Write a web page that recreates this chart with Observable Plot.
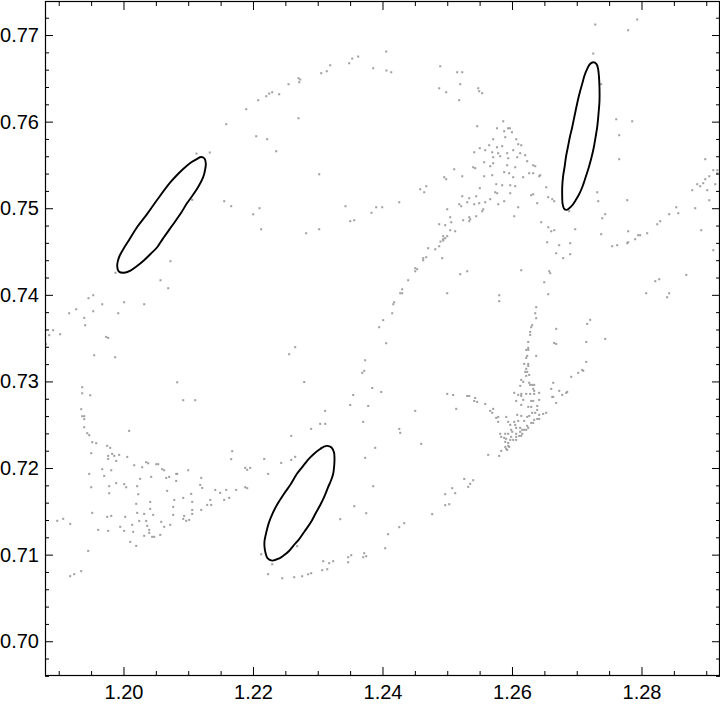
<!DOCTYPE html>
<html>
<head>
<meta charset="utf-8">
<script src="https://cdn.jsdelivr.net/npm/d3@7"></script>
<script src="https://cdn.jsdelivr.net/npm/@observablehq/plot@0.6"></script>
<style>
  html, body { margin: 0; padding: 0; background: #fff; }
  #chart svg { display: block; }
</style>
</head>
<body>
<div id="chart"></div>
<script>
const xMajorTicks = [1.20, 1.22, 1.24, 1.26, 1.28];
const xMinorTicks = [1.190, 1.195, 1.205, 1.210, 1.215, 1.225, 1.230, 1.235, 1.245, 1.250, 1.255, 1.265, 1.270, 1.275, 1.285, 1.290];
const yMajorTicks = [0.70, 0.71, 0.72, 0.73, 0.74, 0.75, 0.76, 0.77];
const yMinorTicks = [0.696, 0.698, 0.702, 0.704, 0.706, 0.708, 0.712, 0.714, 0.716, 0.718, 0.722, 0.724, 0.726, 0.728,
  0.732, 0.734, 0.736, 0.738, 0.742, 0.744, 0.746, 0.748, 0.752, 0.754, 0.756, 0.758, 0.762, 0.764, 0.766, 0.768, 0.772];
const xDomain = [1.18788, 1.29197];
const yDomain = [0.6961, 0.77393];

const orbitUpperArc = [
  [1.21579,0.75976],[1.2112,0.75637],[1.21325,0.75649],[1.21548,0.75087],[1.21656,0.75029],[1.21054,0.75103],
  [1.2405,0.76815],[1.24054,0.76596],[1.24127,0.76576],[1.23617,0.76757],[1.23525,0.76734],[1.23478,0.7668],
  [1.23849,0.76622],[1.23185,0.76657],[1.23046,0.76565],[1.23132,0.76588],[1.22695,0.76507],[1.22722,0.76492],
  [1.22706,0.76461],[1.22541,0.76438],[1.22397,0.76322],[1.22289,0.76345],[1.22243,0.7633],[1.22197,0.76299],
  [1.22073,0.76253],[1.21888,0.76149],[1.22695,0.76045],[1.22042,0.75837],[1.22212,0.75803],[1.22351,0.75664],
  [1.23015,0.75398],[1.22093,0.75006],[1.21996,0.74936],[1.22119,0.74763],[1.22814,0.74717],[1.23015,0.74763],
  [1.23421,0.75029],[1.23494,0.74856],[1.23556,0.74867],[1.23823,0.74953],[1.23895,0.75017],[1.23988,0.75017],
  [1.24251,0.75075],[1.24575,0.75225],[1.24637,0.7519],[1.24668,0.7526],[1.24884,0.76645],[1.24868,0.76391],
  [1.24976,0.76345],[1.25146,0.76576],[1.25224,0.76576],[1.25193,0.76438],[1.25177,0.76253],[1.25471,0.76391],
  [1.25486,0.76357],[1.25455,0.75953],[1.25495,0.75699],[1.25409,0.75652],[1.25393,0.75479],[1.25424,0.75468],
  [1.251,0.75456],[1.24946,0.75364],[1.24976,0.75341],[1.25224,0.75375],[1.25495,0.75237],[1.25224,0.75144],
  [1.25332,0.75121],[1.2544,0.75144],[1.25177,0.75052],[1.25208,0.75029],[1.25301,0.75075],[1.25409,0.75052],
  [1.25486,0.75064],[1.24992,0.74994],[1.25038,0.74902],[1.25054,0.74844],[1.24868,0.74821],[1.24961,0.7481],
  [1.25038,0.74752],[1.25115,0.7474],[1.25239,0.74867],[1.25332,0.74902],[1.25347,0.74879],[1.25332,0.74856],
  [1.2544,0.74913],[1.2493,0.74683],[1.24992,0.74683],[1.24961,0.7466],[1.2493,0.74648]
];
const orbitUpperRight = [
  [1.27926,0.77185],[1.27787,0.77061],[1.27278,0.77127],[1.27247,0.76792],[1.25532,0.76334],[1.27602,0.76033],
  [1.27849,0.7601],[1.27648,0.75849],[1.27648,0.75572],[1.2737,0.76438],[1.25857,0.7601],[1.2576,0.75929],
  [1.2593,0.75929],[1.25961,0.75929],[1.25992,0.75883],[1.25872,0.75895],[1.25888,0.75826],[1.26058,0.75803],
  [1.25702,0.75803],[1.2564,0.75733],[1.2576,0.7571],[1.25841,0.75722],[1.26088,0.75745],[1.26135,0.75733],
  [1.25579,0.75676],[1.25687,0.75652],[1.25779,0.75641],[1.25918,0.75641],[1.26011,0.75676],[1.26119,0.75641],
  [1.26196,0.75618],[1.25702,0.75595],[1.2581,0.75606],[1.25934,0.75583],[1.26073,0.75595],[1.26227,0.75549],
  [1.25563,0.75537],[1.25702,0.75526],[1.25918,0.75502],[1.26042,0.75479],[1.2632,0.75502],[1.26351,0.75491],
  [1.25656,0.75491],[1.25872,0.75422],[1.25949,0.7541],[1.26258,0.7541],[1.2632,0.7541],[1.26413,0.75375],
  [1.25563,0.75375],[1.25687,0.75387],[1.26011,0.75364],[1.26165,0.75364],[1.26428,0.75387],[1.25749,0.75283],
  [1.25841,0.75271],[1.25965,0.75271],[1.26042,0.7526],[1.25733,0.7519],[1.25764,0.75179],[1.25965,0.75179],
  [1.26289,0.75156],[1.2632,0.75167],[1.26521,0.75248],[1.25656,0.7511],[1.25579,0.75075],[1.25779,0.75052],
  [1.25872,0.75087],[1.26088,0.75017],[1.26382,0.75064],[1.26552,0.75133],[1.26614,0.7511],[1.26645,0.75087],
  [1.25548,0.74994],[1.25532,0.74971],[1.26027,0.74913],[1.26444,0.74844],[1.26552,0.74786],[1.26598,0.7474],
  [1.26645,0.74752],[1.26876,0.74971],[1.27309,0.7519],[1.27324,0.75087],[1.27432,0.74937],[1.27386,0.7489],
  [1.27772,0.75099],[1.26969,0.74763],[1.2737,0.74706],[1.27787,0.7474],[1.27895,0.74648],[1.27941,0.74694],
  [1.27972,0.74694],[1.2808,0.74717],[1.28235,0.74821],[1.28281,0.74856],[1.2842,0.74937],[1.28529,0.75017],
  [1.2856,0.74948],[1.28822,0.75006],[1.28915,0.74752],[1.28776,0.75214],[1.28853,0.75283],[1.28899,0.7526],
  [1.28946,0.75295],[1.28977,0.75341],[1.29008,0.75214],[1.29039,0.75375],[1.29039,0.75098],[1.29101,0.75445],
  [1.29132,0.75283],[1.29163,0.7541],[1.29163,0.75445],[1.28977,0.75572]
];
const orbitLeft = [
  [1.20718,0.74394],[1.20564,0.74174],[1.20683,0.74082],[1.19869,0.7426],[1.19452,0.73967],[1.19525,0.74001],
  [1.19664,0.73897],[1.20003,0.7392],[1.20312,0.73897],[1.19262,0.73839],[1.19154,0.73793],[1.19525,0.73816],
  [1.19911,0.73793],[1.19386,0.7374],[1.19401,0.73655],[1.18907,0.73597],[1.18845,0.7354],[1.19015,0.73551],
  [1.18796,0.73435],[1.19725,0.7352],[1.19756,0.73508],[1.1954,0.73308],[1.19864,0.73285],[1.20822,0.72996],
  [1.20915,0.72789],[1.211,0.72789],[1.19355,0.72939],[1.19355,0.72869],[1.19478,0.72846],[1.1934,0.72685],
  [1.19355,0.72604],[1.19386,0.72604],[1.19386,0.7257],[1.19386,0.72477],[1.19432,0.72408],[1.19463,0.72385],
  [1.19509,0.72304],[1.19571,0.72292],[1.19494,0.72177],[1.2008,0.72435],[1.1974,0.72262],[1.19787,0.72239],
  [1.19756,0.72146],[1.19818,0.72169],[1.19849,0.72146],[1.1988,0.72088],[1.19926,0.72158],[1.19756,0.72111],
  [1.2005,0.72134],[1.19664,0.71992],[1.19803,0.7198],[1.20158,0.72038],[1.20281,0.72015],[1.20343,0.72073],
  [1.20374,0.72061],[1.20498,0.7205],[1.20529,0.7205],[1.2059,0.71992],[1.20621,0.7198],[1.2042,0.71904],
  [1.2025,0.71881],[1.20698,0.71904],[1.20806,0.71938],[1.20992,0.7198],[1.21193,0.71892],[1.19463,0.71938],
  [1.19695,0.71915],[1.21671,0.722],[1.21656,0.72108]
];
const orbitLowerLeft = [
  [1.19494,0.71784],[1.19772,0.71796],[1.19772,0.71715],[1.1988,0.71831],[1.20003,0.71819],[1.20034,0.71784],
  [1.20204,0.71796],[1.2022,0.71703],[1.20652,0.71892],[1.20822,0.71938],[1.20806,0.71857],[1.20667,0.71742],
  [1.20776,0.71638],[1.20915,0.71661],[1.21038,0.71707],[1.21177,0.71811],[1.21208,0.71776],[1.2141,0.71753],
  [1.21486,0.71719],[1.21579,0.71753],[1.21733,0.71753],[1.21625,0.71661],[1.21548,0.71638],[1.21332,0.71638],
  [1.21285,0.7158],[1.21347,0.7158],[1.21054,0.71615],[1.21054,0.71522],[1.21193,0.71522],[1.20189,0.71592],
  [1.20204,0.71488],[1.20405,0.71615],[1.20405,0.71534],[1.20312,0.71476],[1.20235,0.71395],[1.20343,0.71395],
  [1.20451,0.71465],[1.20575,0.71384],[1.2076,0.71557],[1.2076,0.71465],[1.20714,0.7135],[1.20621,0.71327],
  [1.2093,0.71453],[1.20915,0.71419],[1.20961,0.71396],[1.21007,0.71407],[1.21054,0.71476],[1.19509,0.71488],
  [1.19741,0.71442],[1.19803,0.71453],[1.20019,0.71442],[1.19942,0.71327],[1.20003,0.7128],[1.20127,0.7135],
  [1.20142,0.71269],[1.19602,0.71292],[1.19756,0.7128],[1.20359,0.71338],[1.2039,0.71292],[1.2039,0.71257],
  [1.20312,0.71223],[1.20436,0.71211],[1.20467,0.71211],[1.2056,0.71234],[1.20096,0.71153],[1.20189,0.71107],
  [1.19447,0.71049],[1.18969,0.71396],[1.19061,0.71419],[1.19169,0.71361],[1.19169,0.70757],[1.19231,0.7078],
  [1.19339,0.70815]
];
const orbitCenter = [
  [1.24888,0.74621],[1.2493,0.74633],[1.24868,0.74567],[1.24807,0.74532],[1.24698,0.74544],[1.24621,0.74429],
  [1.24668,0.7444],[1.24621,0.74405],[1.24914,0.74429],[1.24498,0.74313],[1.24528,0.74302],[1.24498,0.74278],
  [1.25193,0.74244],[1.25301,0.74278],[1.24389,0.74174],[1.24297,0.7407],[1.24266,0.74024],[1.24297,0.74024],
  [1.24992,0.74024],[1.24173,0.7392],[1.24158,0.73897],[1.24142,0.73793],[1.24003,0.73713],[1.23941,0.73632],
  [1.24049,0.73447],[1.22644,0.73401],[1.22551,0.7332],[1.23725,0.7325],[1.2371,0.73128],[1.23679,0.73105],
  [1.22783,0.72999],[1.23834,0.7293],[1.23973,0.72884],[1.2354,0.72849],[1.23494,0.72734],[1.23772,0.72723],
  [1.24992,0.72862],[1.25084,0.72849],[1.25301,0.72838],[1.25332,0.72838],[1.25424,0.72815],[1.25409,0.7278],
  [1.25455,0.72769],[1.25131,0.72689],[1.24498,0.72666],[1.23107,0.72666],[1.23694,0.72539],[1.2303,0.72516],
  [1.23107,0.72516],[1.22891,0.72458],[1.24251,0.72458],[1.24266,0.72412],[1.22583,0.72377],[1.2459,0.72285],
  [1.2388,0.72239],[1.23725,0.72123],[1.22166,0.72111],[1.22428,0.72065],[1.22583,0.721],[1.22644,0.72135],
  [1.21872,0.72008],[1.21949,0.72008],[1.21903,0.71985],[1.22227,0.71938],[1.25255,0.7188]
];
const orbitLowerArc = [
  [1.21872,0.71784],[1.21903,0.71773],[1.23849,0.71796],[1.23556,0.71565],[1.23741,0.71484],[1.2334,0.71415],
  [1.2408,0.71242],[1.24251,0.71323],[1.24328,0.71369],[1.2476,0.71473],[1.24961,0.71577],[1.25023,0.71588],
  [1.24961,0.71704],[1.25069,0.71773],[1.25115,0.71715],[1.25393,0.71865],[1.25347,0.71823],[1.25316,0.71788],
  [1.24034,0.7108],[1.2371,0.71022],[1.23741,0.70987],[1.23695,0.70976],[1.2351,0.70999],[1.23463,0.70976],
  [1.23463,0.70918],[1.23231,0.7093],[1.2317,0.70907],[1.23077,0.7093],[1.23139,0.70837],[1.23061,0.70826],
  [1.22891,0.70791],[1.22845,0.70779],[1.22752,0.70756],[1.22629,0.70745],[1.22444,0.70733],[1.22227,0.7078],
  [1.22289,0.70895],[1.22119,0.7101],[1.22675,0.71103]
];
const orbitRight = [
  [1.26536,0.74613],[1.26721,0.74579],[1.26891,0.74602],[1.26675,0.74486],[1.26891,0.74475],[1.26783,0.74429],
  [1.2754,0.74567],[1.27617,0.74579],[1.27772,0.74602],[1.27787,0.74613],[1.29101,0.74521],[1.28684,0.74236],
  [1.28205,0.74163],[1.28266,0.74186],[1.28065,0.74024],[1.2842,0.74024],[1.28389,0.73978],[1.26135,0.7429],
  [1.26567,0.74278],[1.26583,0.74255],[1.2649,0.74151],[1.26552,0.74013],[1.25795,0.74001],[1.25795,0.73932],
  [1.26366,0.73863],[1.26351,0.73793],[1.26366,0.73736],[1.26304,0.73655],[1.26289,0.73632],[1.26273,0.73578],
  [1.26273,0.73543],[1.272,0.73717],[1.27154,0.7367],[1.26675,0.73613],[1.27432,0.73497],[1.26243,0.73462],
  [1.26644,0.7345],[1.26675,0.73439],[1.27139,0.73462],[1.26243,0.73393],[1.26212,0.7337],[1.26243,0.7337],
  [1.26227,0.73301],[1.26212,0.73278],[1.26366,0.73301],[1.26181,0.73208],[1.26243,0.73208],[1.26243,0.73185],
  [1.27139,0.73231],[1.26212,0.73151],[1.26227,0.73116],[1.26196,0.73116],[1.26258,0.73081],[1.26212,0.7307],
  [1.27077,0.73139],[1.27093,0.73128],[1.27015,0.73105],[1.26907,0.73059],[1.26135,0.73024],[1.26166,0.73001],
  [1.2612,0.72955],[1.26258,0.7299],[1.26304,0.72966],[1.26335,0.72966],[1.26273,0.72966],[1.2632,0.7292],
  [1.26335,0.72897],[1.26629,0.7299],[1.26598,0.7292],[1.26845,0.72885],[1.2683,0.72874],[1.26722,0.72897],
  [1.26768,0.72851],[1.26026,0.72874],[1.26088,0.72851],[1.26135,0.72862],[1.26212,0.72862],[1.26273,0.72862],
  [1.26335,0.72862],[1.26412,0.72874],[1.26135,0.72839],[1.26057,0.72781],[1.26166,0.72793],[1.26289,0.72781],
  [1.2632,0.72781],[1.26412,0.72793],[1.26614,0.72827],[1.26629,0.72827],[1.26675,0.72758],[1.26135,0.72735],
  [1.26243,0.72712],[1.26289,0.72712],[1.26382,0.72723],[1.25579,0.72746],[1.25656,0.72666],[1.25687,0.72643],
  [1.25702,0.72689],[1.25749,0.72585],[1.25779,0.72596],[1.25903,0.72596],[1.26073,0.7262],[1.26135,0.72608],
  [1.26227,0.72596],[1.26258,0.72608],[1.26304,0.72643],[1.26351,0.72643],[1.26382,0.72677],[1.26413,0.7262],
  [1.26474,0.72631],[1.26521,0.72643],[1.25779,0.72539],[1.25934,0.72539],[1.26026,0.72539],[1.26088,0.7255],
  [1.26181,0.7255],[1.26289,0.72527],[1.2632,0.72527],[1.26335,0.72562],[1.26382,0.72573],[1.26413,0.72573],
  [1.25965,0.72504],[1.26042,0.72504],[1.26119,0.7247],[1.26227,0.72493],[1.2598,0.72447],[1.26057,0.7247],
  [1.2615,0.72447],[1.26181,0.72447],[1.26212,0.72447],[1.26243,0.7247],[1.25996,0.72424],[1.26119,0.72424],
  [1.2615,0.72401],[1.26135,0.72377],[1.26104,0.72377],[1.2581,0.72401],[1.25888,0.72401],[1.25934,0.72401],
  [1.26057,0.72401],[1.25826,0.72366],[1.25872,0.72354],[1.25903,0.72343],[1.2598,0.72366],[1.26057,0.72366],
  [1.25965,0.72331],[1.26011,0.72331],[1.26057,0.72331],[1.25888,0.72308],[1.25934,0.72296],[1.25888,0.7225],
  [1.25934,0.72262],[1.25949,0.7225],[1.25903,0.72227],[1.25918,0.72215],[1.25826,0.72204],[1.25625,0.72158],
  [1.25795,0.72146]
];

const islandUpperLeft = [
  [1.2119,0.75597],[1.21244,0.7558],[1.21264,0.75522],[1.21251,0.75441],[1.21223,0.75364],[1.2115,0.75256],
  [1.21078,0.75172],[1.2097,0.7506],[1.20873,0.74941],[1.20734,0.74794],[1.20599,0.74652],[1.20513,0.74555],
  [1.2041,0.74477],[1.20306,0.74402],[1.20201,0.74338],[1.20101,0.74286],[1.19997,0.7426],[1.1992,0.74275],
  [1.19895,0.74344],[1.19908,0.74402],[1.19935,0.7446],[1.2,0.74546],[1.20074,0.74633],[1.20209,0.74794],
  [1.20359,0.74941],[1.20533,0.75124],[1.20718,0.75306],[1.20842,0.75407],[1.20976,0.75499],[1.21058,0.75545],
  [1.2113,0.75576]
];
const islandLower = [
  [1.23139,0.72262],[1.23205,0.72243],[1.23244,0.72185],[1.23251,0.72116],[1.23248,0.72046],[1.23231,0.71939],
  [1.23197,0.71862],[1.23148,0.71777],[1.23097,0.71682],[1.23035,0.71584],[1.22958,0.7148],[1.22881,0.71373],
  [1.22788,0.71273],[1.227,0.7118],[1.22618,0.71111],[1.22545,0.71045],[1.22464,0.70995],[1.22391,0.7096],
  [1.22289,0.70937],[1.22216,0.70966],[1.22186,0.71027],[1.2217,0.71099],[1.2217,0.7116],[1.22201,0.71273],
  [1.22237,0.71373],[1.22294,0.7148],[1.22366,0.71584],[1.22464,0.717],[1.22572,0.71815],[1.22664,0.71931],
  [1.22752,0.72016],[1.22819,0.72081],[1.22881,0.72131],[1.22958,0.72185],[1.23035,0.72228],[1.23089,0.72254]
];
const islandUpperRight = [
  [1.27247,0.76692],[1.27298,0.76671],[1.27321,0.76619],[1.27336,0.76519],[1.27344,0.76388],[1.27344,0.7625],
  [1.27329,0.761],[1.27308,0.75941],[1.27282,0.75822],[1.27256,0.7571],[1.2722,0.75591],[1.27179,0.75479],
  [1.27128,0.7536],[1.27077,0.75248],[1.27027,0.75164],[1.26973,0.75095],[1.26927,0.75043],[1.2688,0.75008],
  [1.26834,0.74987],[1.26796,0.75002],[1.26773,0.7506],[1.26768,0.75133],[1.26768,0.75248],[1.26781,0.75372],
  [1.26804,0.75479],[1.26827,0.75603],[1.26855,0.7571],[1.26888,0.75834],[1.26922,0.75941],[1.26966,0.761],
  [1.27009,0.7625],[1.27043,0.76353],[1.27077,0.76442],[1.27112,0.76538],[1.27154,0.76615],[1.27197,0.76671]
];

const orbit = [].concat(orbitUpperArc, orbitUpperRight, orbitLeft, orbitLowerLeft, orbitCenter, orbitLowerArc, orbitRight);
const fmt = d => d.toFixed(2);
const FONT = 20;
const FAMILY = "Liberation Sans, Arial, sans-serif";

const chart = Plot.plot({
  width: 720,
  height: 704,
  marginLeft: 45,
  marginRight: 1,
  marginTop: 1,
  marginBottom: 29,
  style: { fontFamily: FAMILY, fontSize: FONT + "px", background: "#fff", color: "#000" },
  x: { domain: xDomain, label: null },
  y: { domain: yDomain, label: null },
  marks: [
    Plot.dot(orbit, { x: d => d[0], y: d => d[1], r: 1.15, symbol: "square", fill: "#a0a0a0", stroke: null }),
    Plot.line(islandUpperLeft, { x: d => d[0], y: d => d[1], curve: "catmull-rom-closed", stroke: "#000", strokeWidth: 1.9 }),
    Plot.line(islandLower, { x: d => d[0], y: d => d[1], curve: "catmull-rom-closed", stroke: "#000", strokeWidth: 1.9 }),
    Plot.line(islandUpperRight, { x: d => d[0], y: d => d[1], curve: "catmull-rom-closed", stroke: "#000", strokeWidth: 1.9 }),
    Plot.axisX({ anchor: "bottom", ticks: xMajorTicks, tickSize: -8, tickPadding: 17.3, tickFormat: fmt, label: null, fontSize: FONT, fontFamily: FAMILY }),
    Plot.axisX({ anchor: "bottom", ticks: xMinorTicks, tickSize: -4, fill: "none", label: null }),
    Plot.axisX({ anchor: "top", ticks: xMajorTicks, tickSize: -8, fill: "none", label: null }),
    Plot.axisX({ anchor: "top", ticks: xMinorTicks, tickSize: -4, fill: "none", label: null }),
    Plot.axisY({ anchor: "left", ticks: yMajorTicks, tickSize: -8, tickPadding: 14.5, tickFormat: fmt, label: null, fontSize: FONT, fontFamily: FAMILY }),
    Plot.axisY({ anchor: "left", ticks: yMinorTicks, tickSize: -4, fill: "none", label: null }),
    Plot.axisY({ anchor: "right", ticks: yMajorTicks, tickSize: -8, fill: "none", label: null }),
    Plot.axisY({ anchor: "right", ticks: yMinorTicks, tickSize: -4, fill: "none", label: null }),
    Plot.frame({ stroke: "#000", strokeWidth: 1.2 })
  ]
});
document.getElementById("chart").appendChild(chart);
</script>
</body>
</html>
